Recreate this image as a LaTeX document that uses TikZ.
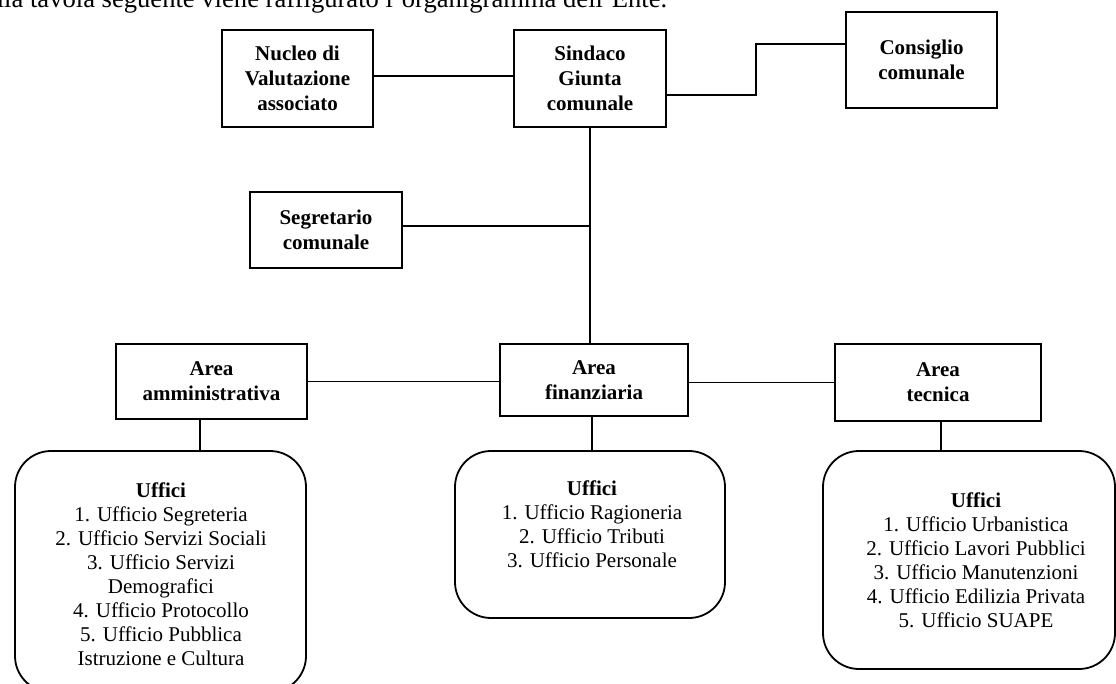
\documentclass[tikz,border=0pt]{standalone}
\usepackage{fontspec}
\setmainfont{Liberation Serif}
\tikzset{
  rbox/.style={draw, line width=1.8pt, inner sep=0pt, align=center,
    font=\bfseries\fontsize{21}{25}\selectfont},
  ubox/.style={draw, line width=1.8pt, rounded corners=36pt, inner sep=0pt},
  ulist/.style={inner sep=0pt, align=center, font=\fontsize{21}{24}\selectfont},
  conn/.style={line width=1.3pt},
}
\begin{document}
\begin{tikzpicture}[x=1pt,y=-1pt]
\useasboundingbox (0,0) rectangle (1116,684);
\clip (0,0) rectangle (1116,684);

\node[anchor=base west, inner sep=0pt, font=\fontsize{26.6}{30}\selectfont] (intro) at (-34.4,8)
  {Nella tavola seguente viene raffigurato l'organigramma dell'Ente.};

% top boxes
\node[rbox, minimum width=151pt, minimum height=97pt] (nucleo) at (297.5,78.5) {Nucleo di\\Valutazione\\associato};
\node[rbox, minimum width=152pt, minimum height=97pt] (sindaco) at (590,78.5) {Sindaco\\Giunta\\comunale};
\node[rbox, minimum width=151pt, minimum height=96pt] (consiglio) at (921.5,60) {Consiglio\\comunale};
\node[rbox, minimum width=152pt, minimum height=76pt] (segr) at (326,230) {Segretario\\comunale};

% areas
\node[rbox, minimum width=191pt, minimum height=75pt] (amm) at (211.5,381.5) {Area\\amministrativa};
\node[rbox, minimum width=188pt, minimum height=72pt] (fin) at (594,380) {Area\\finanziaria};
\node[rbox, minimum width=206pt, minimum height=77pt] (tec) at (938,382.5) {Area\\tecnica};

% offices
\node[ubox, minimum width=291pt, minimum height=241pt] (uamm) at (160.5,571.5) {};
\node[ubox, minimum width=270pt, minimum height=167pt] (ufin) at (590,534.5) {};
\node[ubox, minimum width=292pt, minimum height=218pt] (utec) at (969,560) {};

\node[ulist, anchor=base] (uammtxt) at (161,665)
  {\textbf{Uffici}\\1. Ufficio Segreteria\\2. Ufficio Servizi Sociali\\3. Ufficio Servizi\\Demografici\\4. Ufficio Protocollo\\5. Ufficio Pubblica\\Istruzione e Cultura};
\node[ulist, anchor=base] (ufintxt) at (592,567)
  {\textbf{Uffici}\\1. Ufficio Ragioneria\\2. Ufficio Tributi\\3. Ufficio Personale};
\node[ulist, anchor=base] (utectxt) at (976,627)
  {\textbf{Uffici}\\1. Ufficio Urbanistica\\2. Ufficio Lavori Pubblici\\3. Ufficio Manutenzioni\\4. Ufficio Edilizia Privata\\5. Ufficio SUAPE};

% connectors
\draw[conn] ([yshift=2.5pt]nucleo.east) -- ([yshift=2.5pt]sindaco.west);
\draw[conn] ([yshift=-16.5pt]sindaco.east) -- ++(89,0) |- ([yshift=16pt]consiglio.west);
\draw[conn] (sindaco.south) -- (sindaco.south |- fin.north);
\coordinate (segc) at ([yshift=4pt]segr.east);
\draw[conn] (segc) -- (sindaco.south |- segc);
\draw[conn] (amm.east) -- (amm.east -| fin.west);
\draw[conn] (tec.west -| fin.east) -- (tec.west);
\coordinate (ammdrop) at ([xshift=-11.5pt]amm.south);
\draw[conn] (ammdrop) -- (ammdrop |- uamm.north);
\coordinate (findrop) at ([xshift=-2pt]fin.south);
\draw[conn] (findrop) -- (findrop |- ufin.north);
\coordinate (tecdrop) at ([xshift=3pt]tec.south);
\draw[conn] (tecdrop) -- (tecdrop |- utec.north);
\end{tikzpicture}
\end{document}
